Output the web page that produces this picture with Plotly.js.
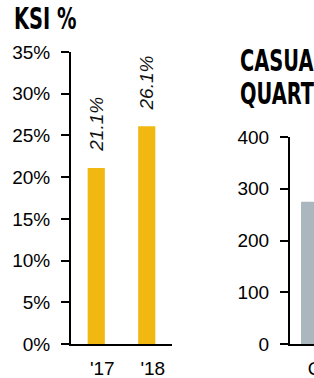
<!DOCTYPE html>
<html>
<head>
<meta charset="utf-8">
<script src="https://cdn.plot.ly/plotly-3.0.1.min.js"></script>
<style>
html, body { margin:0; padding:0; overflow:hidden; background:#fff; width:314px; height:378px; }
#chart { width:420px; height:378px; }
</style>
</head>
<body>
<div id="chart"></div>
<script>
// ---- data ----
const ksiYears = ["'17", "'18"];
const ksiPct = [21.1, 26.1];
const quarterCats = ["Q1"];
const casualties = [275];
const ksiTitle = "KSI %";
const casTitleLines = ["CASUALTIES BY", "QUARTER"];

// ---- layout helpers (pixels on a 420x378 canvas) ----
const W = 420, H = 378;
const px = v => v / W;
const py = v => 1 - v / H;

const tickFont = { family: "Liberation Sans, Arial, sans-serif", size: 19, color: "#000" };
const titleFont = { family: "DejaVu Sans Condensed, DejaVu Sans, sans-serif", size: 30, color: "#000", weight: 700 };
const TITLE_SCALE = 0.72;

const traces = [
  { type: "bar", x: ksiYears, y: ksiPct, xaxis: "x", yaxis: "y",
    marker: { color: "#F0B811" }, width: 0.34, hoverinfo: "skip" },
  { type: "bar", x: quarterCats, y: casualties, xaxis: "x2", yaxis: "y2",
    marker: { color: "#AAB7BF" }, width: 0.55, hoverinfo: "skip" }
];

const axisCommon = {
  showline: true, linewidth: 2, linecolor: "#000", showgrid: false, zeroline: false,
  tickfont: tickFont, fixedrange: true
};

const annotations = [];
ksiYears.forEach((c, i) => {
  annotations.push({
    xref: "x", yref: "y", x: c, y: ksiPct[i], text: ksiPct[i].toFixed(1) + "%",
    textangle: -90, showarrow: false, yanchor: "bottom", xanchor: "center", yshift: 14,
    font: { family: "Liberation Sans, Arial, sans-serif", size: 19, color: "#111", style: "italic" }
  });
});
const titleStart = annotations.length;
annotations.push({ xref: "paper", yref: "paper", x: px(12), y: py(-1), xanchor: "left", yanchor: "top",
  text: ksiTitle, showarrow: false, font: titleFont });
casTitleLines.forEach((t, i) => {
  annotations.push({ xref: "paper", yref: "paper", x: px(238), y: py(41 + i * 33), xanchor: "left", yanchor: "top",
    text: t, showarrow: false, font: titleFont });
});

const layout = {
  width: W, height: H, margin: { l: 0, r: 0, t: 0, b: 0 },
  paper_bgcolor: "#fff", plot_bgcolor: "rgba(0,0,0,0)", showlegend: false,
  xaxis: Object.assign({}, axisCommon, { domain: [px(71), px(172)], type: "category", range: [-0.5, 1.5],
    ticks: "", anchor: "y", ticklabelshift: 6, ticklabelstandoff: 6 }),
  yaxis: Object.assign({}, axisCommon, { domain: [34 / H, 326 / H], range: [0, 35], dtick: 5, ticksuffix: "%",
    ticks: "outside", ticklen: 8, tickwidth: 2, tickcolor: "#000", anchor: "x", ticklabelstandoff: 7 }),
  xaxis2: Object.assign({}, axisCommon, { domain: [px(290), px(339)], type: "category", range: [-0.5, 0.5],
    ticks: "", anchor: "y2", ticklabelshift: 6, ticklabelstandoff: 6 }),
  yaxis2: Object.assign({}, axisCommon, { domain: [34 / H, 241 / H], range: [0, 400], dtick: 100,
    ticks: "outside", ticklen: 8, tickwidth: 2, tickcolor: "#000", anchor: "x2", ticklabelstandoff: 7 }),
  annotations: annotations
};

Plotly.newPlot("chart", traces, layout, { displayModeBar: false, staticPlot: true }).then(gd => {
  // condense the heavy title lettering horizontally, keeping its left edge fixed
  for (let i = titleStart; i < annotations.length; i++) {
    const t = gd.querySelector('g.annotation[data-index="' + i + '"] text.annotation-text');
    if (!t) continue;
    const b = t.getBBox();
    t.setAttribute("transform", "translate(" + b.x + ",0) scale(" + TITLE_SCALE + ",1) translate(" + (-b.x) + ",0)");
  }
});
</script>
</body>
</html>
